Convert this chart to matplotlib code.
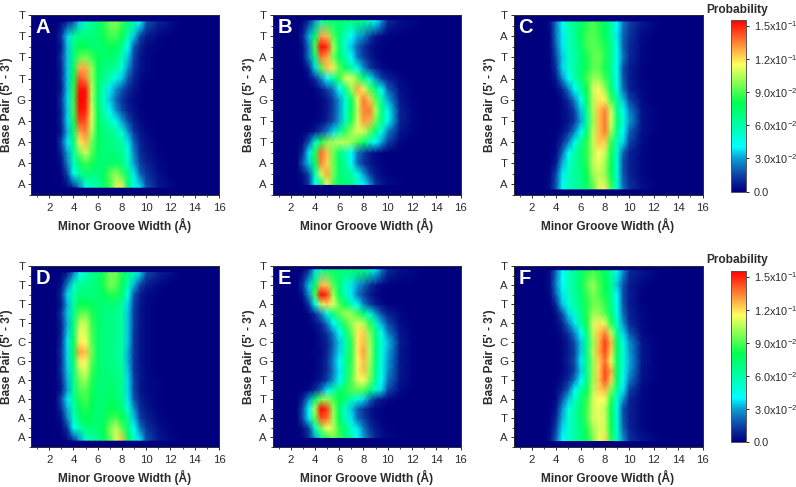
import numpy as np
import matplotlib
matplotlib.use('Agg')
import matplotlib.pyplot as plt
from matplotlib.colors import LinearSegmentedColormap, Normalize
from matplotlib.cm import ScalarMappable
from matplotlib.ticker import MultipleLocator

plt.rcParams['font.family'] = ['Liberation Sans', 'DejaVu Sans']
plt.rcParams['mathtext.default'] = 'regular'

# groove width columns (A), probability in units of 1e-3
width = [2.5, 3, 3.5, 4, 4.5, 5, 5.5, 6, 6.5, 7, 7.5, 8, 8.5, 9, 9.5, 10, 11, 12, 13]

rows_top = [1.5, 2, 2.5, 3, 3.5, 4, 4.5, 5, 5.5, 6, 6.5, 7, 7.5, 8]
rows_bot = [1.5, 2, 2.5, 3, 3.5, 4, 4.5, 5, 5.5, 6, 6.5, 7, 7.5, 8, 8.5, 9]

labels_a = ['A', 'A', 'A', 'A', 'G', 'T', 'T', 'T', 'T']
labels_b = ['A', 'A', 'T', 'T', 'G', 'A', 'A', 'T', 'T']
labels_c = ['A', 'T', 'A', 'T', 'G', 'A', 'T', 'A', 'T']
labels_d = ['A', 'A', 'A', 'A', 'G', 'C', 'T', 'T', 'T', 'T']
labels_e = ['A', 'A', 'T', 'T', 'G', 'C', 'A', 'A', 'T', 'T']
labels_f = ['A', 'T', 'A', 'T', 'G', 'C', 'A', 'T', 'A', 'T']

edges_a = (0.87, 8.67)
edges_b = (1.0, 8.73)
edges_c = (0.79, 8.67)
edges_d = (0.86, 9.65)
edges_e = (1.0, 9.8)
edges_f = (0.84, 9.75)

prob_a = [
    [0,0,2,8,25,48,55,62,72,88,108,118,72,48,38,18,6,2,0],
    [0,2,14,45,62,72,70,70,78,92,100,88,68,38,20,12,4,0,0],
    [0,4,25,55,75,88,82,72,72,74,76,70,55,30,14,8,2,0,0],
    [0,8,30,62,95,108,92,76,72,70,70,66,48,26,10,6,1,0,0],
    [0,14,38,72,118,125,95,76,72,70,66,62,38,20,8,4,0,0,0],
    [0,6,32,74,130,135,105,78,70,66,60,48,28,12,5,2,0,0,0],
    [0,8,36,82,145,142,110,78,66,55,45,30,16,7,3,1,0,0,0],
    [0,8,34,88,152,150,110,75,58,42,28,16,8,4,1,0,0,0,0],
    [0,12,36,86,155,152,105,74,52,34,22,12,6,3,1,0,0,0,0],
    [0,6,34,85,152,152,105,76,55,38,28,18,10,5,2,0,0,0,0],
    [0,8,34,80,142,135,100,76,66,56,46,34,18,8,3,1,0,0,0],
    [0,8,34,78,128,128,100,78,70,68,62,48,28,12,5,2,0,0,0],
    [0,12,34,70,92,96,88,78,74,74,72,58,34,14,6,2,0,0,0],
    [0,6,34,70,80,78,74,72,74,78,78,66,40,18,8,3,1,0,0],
    [0,12,36,62,70,70,70,72,82,88,88,80,58,34,14,7,2,0,0],
    [0,2,8,18,36,55,65,72,85,95,98,88,72,60,40,18,8,4,0],
]
prob_b = [
    [0,3,12,40,72,112,90,72,72,70,55,42,30,12,6,3,1,0,0],
    [0,4,16,58,108,128,96,72,68,62,46,30,14,6,3,1,0,0,0],
    [0,18,34,80,134,122,95,74,62,40,22,12,6,3,1,0,0,0,0],
    [0,10,38,84,138,125,95,72,56,40,24,14,7,3,1,0,0,0,0],
    [0,4,18,50,84,98,102,106,105,100,90,75,55,40,30,14,2,0,0],
    [0,0,2,6,14,24,36,60,86,100,110,108,92,70,44,26,5,1,0],
    [0,0,0,1,3,8,16,30,54,84,110,130,128,94,66,42,8,2,0],
    [0,0,0,0,2,6,14,28,50,80,106,134,136,104,68,44,8,2,0],
    [0,0,0,0,2,6,14,28,50,76,110,136,124,92,60,32,6,1,0],
    [0,0,0,1,6,14,24,40,66,100,128,118,92,68,40,20,4,1,0],
    [0,0,2,10,26,42,60,85,110,110,94,72,48,28,14,8,2,0,0],
    [0,0,8,36,90,124,118,92,76,62,44,28,14,7,3,1,0,0,0],
    [0,4,24,70,136,128,96,76,58,40,24,14,7,3,1,0,0,0,0],
    [0,4,24,90,154,148,102,72,50,34,20,12,6,2,1,0,0,0,0],
    [0,8,32,76,130,126,92,72,55,40,32,26,14,6,3,1,0,0,0],
    [0,1,10,28,58,70,72,72,72,70,72,66,56,40,28,10,4,2,0],
]
prob_c = [
    [0,0,4,18,42,55,60,66,72,90,110,118,88,50,22,12,4,1,0],
    [0,0,2,16,38,55,62,68,80,100,106,100,80,48,18,8,2,0,0],
    [0,0,1,6,32,52,62,70,84,105,112,102,80,48,16,8,2,0,0],
    [0,0,1,3,20,40,60,72,86,104,115,108,82,50,20,8,2,0,0],
    [0,0,0,2,10,24,45,65,84,106,124,122,86,56,36,15,3,0,0],
    [0,0,0,0,4,10,25,40,74,105,125,135,102,66,40,20,4,1,0],
    [0,0,0,0,2,5,12,30,60,100,125,136,110,72,50,30,5,1,0],
    [0,0,0,0,2,6,14,34,68,104,125,134,108,68,42,26,4,1,0],
    [0,0,0,0,3,10,25,42,76,104,118,116,88,62,34,15,3,0,0],
    [0,0,0,2,8,24,40,62,80,108,116,100,74,45,22,8,2,0,0],
    [0,0,1,6,26,42,58,72,88,100,100,88,68,44,18,7,1,0,0],
    [0,0,1,12,36,52,62,72,82,92,92,82,66,44,16,7,1,0,0],
    [0,0,1,16,34,52,60,70,82,92,94,84,66,42,24,10,2,0,0],
    [0,0,2,20,38,55,62,72,88,92,90,84,66,46,20,10,2,0,0],
    [0,0,2,24,38,55,64,76,88,92,86,78,62,38,20,12,3,0,0],
    [0,0,4,24,42,58,66,74,84,90,84,78,62,40,24,14,6,2,0],
]
prob_d = [
    [0,0,2,10,28,52,60,66,76,92,110,125,80,50,38,18,6,2,0],
    [0,2,12,42,60,70,72,72,80,96,106,92,70,42,24,12,4,1,0],
    [0,4,26,54,72,80,76,72,76,85,90,80,64,34,14,8,2,0,0],
    [0,10,32,60,78,84,78,72,74,80,78,72,50,28,10,6,1,0,0],
    [0,16,38,64,84,90,80,72,72,78,72,68,38,18,8,4,1,0,0],
    [0,6,30,66,90,92,82,72,72,74,72,66,36,14,6,3,1,0,0],
    [0,8,32,68,96,100,84,72,72,72,70,66,36,14,6,3,1,0,0],
    [0,12,34,70,104,110,88,74,72,70,68,64,34,12,6,2,0,0,0],
    [0,10,36,74,118,116,92,74,70,68,66,60,32,12,5,2,0,0,0],
    [0,12,36,78,130,125,95,74,70,68,66,60,32,12,5,2,0,0,0],
    [0,10,38,80,118,114,92,74,70,68,66,62,34,12,5,2,0,0,0],
    [0,8,34,74,112,110,90,74,70,68,66,62,34,12,5,2,0,0,0],
    [0,8,32,72,105,108,88,74,70,68,66,62,34,13,5,2,0,0,0],
    [0,12,34,66,92,95,84,74,70,68,66,62,34,13,5,2,0,0,0],
    [0,6,32,62,80,80,76,74,72,72,70,62,36,14,6,2,0,0,0],
    [0,10,36,60,70,70,70,72,78,84,84,74,44,18,7,3,1,0,0],
    [0,4,26,52,64,66,68,72,84,96,92,78,58,32,14,7,2,0,0],
    [0,1,6,24,44,58,64,72,84,95,95,84,68,55,36,16,8,4,0],
]
prob_e = [
    [0,2,10,30,62,85,95,88,72,60,40,30,18,8,4,2,1,0,0],
    [0,4,14,55,95,115,105,85,70,52,38,24,12,6,3,1,0,0,0],
    [0,16,38,92,142,138,102,78,56,38,22,14,7,3,1,0,0,0,0],
    [0,16,40,104,155,146,100,74,52,34,20,12,6,2,1,0,0,0,0],
    [0,8,28,72,98,100,90,80,70,58,48,36,22,10,5,2,0,0,0],
    [0,0,2,10,22,38,58,72,84,90,92,90,72,52,36,16,3,0,0],
    [0,0,0,2,6,14,28,42,66,90,110,115,96,64,40,24,5,1,0],
    [0,0,0,1,4,10,24,38,62,88,112,125,100,68,44,28,6,1,0],
    [0,0,0,1,4,10,26,40,66,85,114,125,102,70,46,30,6,1,0],
    [0,0,0,1,3,8,22,36,60,85,118,130,105,72,46,32,6,1,0],
    [0,0,0,1,4,8,20,34,58,85,118,125,102,72,48,34,7,1,0],
    [0,0,0,1,5,12,26,42,66,92,118,122,98,68,44,26,5,1,0],
    [0,0,1,4,10,24,40,62,86,100,108,105,85,55,32,16,3,0,0],
    [0,0,2,10,26,48,70,92,102,100,88,70,50,30,16,8,2,0,0],
    [0,1,12,44,108,122,112,92,76,58,40,26,14,7,3,1,0,0,0],
    [0,6,28,90,155,146,102,76,54,38,24,14,7,3,1,0,0,0,0],
    [0,12,34,76,126,124,92,72,54,38,30,22,12,6,2,1,0,0,0],
    [0,1,10,36,62,70,72,72,72,74,76,72,58,38,24,10,4,2,0],
]
prob_f = [
    [0,0,4,20,40,52,60,68,78,95,112,120,85,52,28,12,5,2,0],
    [0,0,2,14,36,50,60,70,84,102,110,108,80,50,20,8,2,0,0],
    [0,0,1,10,32,50,60,72,88,108,112,108,80,48,18,8,2,0,0],
    [0,0,1,6,28,46,60,74,88,108,112,106,80,46,16,8,2,0,0],
    [0,0,0,3,18,34,54,70,86,108,115,114,84,48,28,9,2,0,0],
    [0,0,0,2,8,20,40,60,78,104,122,126,96,62,38,14,3,0,0],
    [0,0,0,1,4,10,24,40,68,100,124,142,122,74,42,24,4,1,0],
    [0,0,0,0,2,6,14,34,66,100,122,144,128,76,46,30,5,1,0],
    [0,0,0,0,2,8,16,38,68,100,122,138,112,72,50,32,6,1,0],
    [0,0,0,0,2,7,14,34,68,104,128,143,122,76,50,30,6,1,0],
    [0,0,0,0,2,7,16,34,66,100,126,146,126,76,44,28,5,1,0],
    [0,0,0,1,4,12,26,40,70,106,124,134,106,64,36,18,3,0,0],
    [0,0,0,2,8,24,38,62,82,108,118,112,84,52,28,10,2,0,0],
    [0,0,0,4,16,36,52,66,84,100,100,92,74,44,22,8,2,0,0],
    [0,0,1,10,34,50,60,70,84,94,94,86,68,44,18,7,1,0,0],
    [0,0,2,20,38,54,62,72,86,96,90,82,66,40,16,7,1,0,0],
    [0,0,4,26,42,56,64,74,92,100,90,80,66,34,18,7,2,0,0],
    [0,0,4,22,40,56,64,72,84,88,84,76,62,46,28,10,5,2,0],
]

cbar_ticks = [0, 0.03, 0.06, 0.09, 0.12, 0.15]
cbar_labels = ['0.0', '3.0x10$^{-2}$', '6.0x10$^{-2}$', '9.0x10$^{-2}$',
               '1.2x10$^{-1}$', '1.5x10$^{-1}$']

VMAX = 0.155
TEXT = '#2b2b2b'
W, H = 796.0, 487.0

stops = [(0, '#00007f'), (0.01, '#0a2c98'), (0.02, '#0f62b4'), (0.03, '#0a9fd4'),
         (0.04, '#00ffff'), (0.06, '#00ffa8'), (0.08, '#00ff50'), (0.095, '#70ff50'),
         (0.115, '#ffff60'), (0.13, '#ffa040'), (0.155, '#ff0000')]
cmap = LinearSegmentedColormap.from_list('rainbow_origin', [(v / VMAX, c) for v, c in stops])
norm = Normalize(0, VMAX)


def px_axes(fig, x0, y0, x1, y1):
    return fig.add_axes([x0 / W, 1 - y1 / H, (x1 - x0) / W, (y1 - y0) / H])


def plot_panel(ax, letter, prob, rows, edges, labels):
    y = [edges[0]] + rows + [edges[1]]
    z = np.array(prob) * 1e-3
    ax.set_facecolor('#00007f')
    ax.pcolormesh(width, y, z, cmap=cmap, norm=norm, shading='gouraud', rasterized=True)
    ax.set_xlim(0.5, 16)
    ax.set_ylim(0.5, len(labels))
    ax.set_xticks(range(2, 17, 2))
    ax.xaxis.set_minor_locator(MultipleLocator(1))
    ax.set_yticks(range(1, len(labels) + 1))
    ax.set_yticklabels(labels)
    ax.yaxis.set_minor_locator(MultipleLocator(0.5))
    ax.tick_params(which='major', length=2.5, width=0.7, labelsize=8.2, color=TEXT, labelcolor=TEXT)
    ax.tick_params(axis='x', which='major', pad=3)
    ax.tick_params(axis='y', which='major', pad=1.5)
    ax.tick_params(which='minor', length=1.4, width=0.6, color=TEXT)
    for s in ax.spines.values():
        s.set_linewidth(0.7)
        s.set_color(TEXT)
    ax.set_xlabel(u'Minor Groove Width (\u00c5)', fontsize=8.6, fontweight='bold', color=TEXT)
    ax.set_ylabel("Base Pair (5' - 3')", fontsize=8.6, fontweight='bold', color=TEXT)
    ax.xaxis.set_label_coords(0.5, -30.5 / 180, transform=ax.transAxes)
    ax.yaxis.set_label_coords(-23.5 / 188, 0.5, transform=ax.transAxes)
    ax.xaxis.label.set_va('center')
    ax.yaxis.label.set_va('center')
    ax.text(0.025, 0.93, letter, transform=ax.transAxes, color='white', fontsize=14.5,
            fontweight='bold', va='center', ha='left')


def plot_cbar(fig, x0, y0, x1, y1):
    cax = px_axes(fig, x0, y0, x1, y1)
    cb = fig.colorbar(ScalarMappable(norm=norm, cmap=cmap), cax=cax)
    cb.set_ticks(cbar_ticks)
    cb.set_ticklabels(cbar_labels)
    cb.ax.tick_params(length=2.5, width=0.7, labelsize=7.9, pad=3, color=TEXT, labelcolor=TEXT)
    cb.outline.set_linewidth(0.7)
    cb.outline.set_edgecolor('#555555')
    fig.text(737.5 / W, 1 - (y0 - 10.5) / H, 'Probability', fontsize=8.6, fontweight='bold',
             color=TEXT, ha='center', va='center')


fig = plt.figure(figsize=(7.96, 4.87), dpi=100)

plot_panel(px_axes(fig, 31, 15, 219, 195), 'A', prob_a, rows_top, edges_a, labels_a)
plot_panel(px_axes(fig, 272.5, 15, 460.5, 195), 'B', prob_b, rows_top, edges_b, labels_b)
plot_panel(px_axes(fig, 513.5, 15, 702.5, 195), 'C', prob_c, rows_top, edges_c, labels_c)
plot_panel(px_axes(fig, 31, 266, 219, 447), 'D', prob_d, rows_bot, edges_d, labels_d)
plot_panel(px_axes(fig, 272.5, 266, 460.5, 447), 'E', prob_e, rows_bot, edges_e, labels_e)
plot_panel(px_axes(fig, 513.5, 266, 702.5, 447), 'F', prob_f, rows_bot, edges_f, labels_f)

plot_cbar(fig, 731, 20, 746, 191.5)
plot_cbar(fig, 731, 271, 746, 442)

fig.savefig('out.png', dpi=100)
